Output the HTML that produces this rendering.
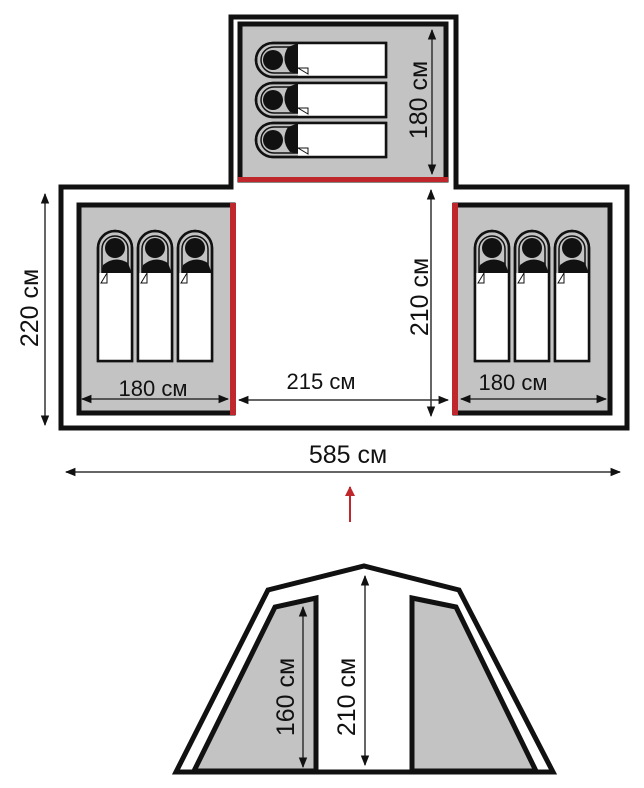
<!DOCTYPE html>
<html><head><meta charset="utf-8"><style>
html,body{margin:0;padding:0;background:#fff;}
svg{display:block;}
text{font-family:"Liberation Sans",sans-serif;font-size:25px;fill:#111;}
</style></head><body>
<svg width="644" height="788" viewBox="0 0 644 788" xmlns="http://www.w3.org/2000/svg">
<defs>
<marker id="a" viewBox="0 0 10 10" refX="9" refY="5" markerWidth="7" markerHeight="7" orient="auto-start-reverse"><path d="M0,1 L10,5 L0,9 z" fill="#111"/></marker>
<marker id="r" viewBox="0 0 10 10" refX="9" refY="5" markerWidth="5" markerHeight="5" orient="auto"><path d="M0,0 L10,5 L0,10 z" fill="#c0272d"/></marker>
<g id="bag">
<path d="M0,130 V17 A17,17 0 0 1 34,17 V130 Z" fill="#c3c3c3" stroke="#111" stroke-width="2.5"/>
<path d="M4,42 V18 A13,13 0 0 1 30,18 V42 Z" fill="#c3c3c3" stroke="#111" stroke-width="1.5"/>
<circle cx="17" cy="17" r="10" fill="#111"/>
<path d="M3,46 L5,34 Q17,24 30,32 L33,40 L33,46 Z" fill="#111"/>
<rect x="1" y="42" width="32" height="87" fill="#fff"/>
<path d="M3,52 L9,42 L9,52 Z" fill="#fff" stroke="#111" stroke-width="1"/>
<path d="M0,130 V17 A17,17 0 0 1 34,17 V130 Z" fill="none" stroke="#111" stroke-width="2.5"/>
</g>
<g id="bagh" transform="">
<use href="#bag" transform="translate(0,34) rotate(-90)"/>
</g>
</defs>
<path d="M231,17 H456 V187 H627 V428 H61 V187 H231 Z" fill="#fff" stroke="#111" stroke-width="5"/>
<rect x="240" y="24" width="206" height="156" fill="#c3c3c3" stroke="#111" stroke-width="5"/>
<rect x="238" y="177" width="210" height="5" fill="#c0272d"/>
<g transform="translate(256,43)"><use href="#bag" transform="translate(0,34) rotate(-90)"/></g>
<g transform="translate(256,83)"><use href="#bag" transform="translate(0,34) rotate(-90)"/></g>
<g transform="translate(256,123)"><use href="#bag" transform="translate(0,34) rotate(-90)"/></g>
<line x1="432" y1="30" x2="432" y2="174" stroke="#333" stroke-width="1.5" marker-start="url(#a)" marker-end="url(#a)"/>
<text transform="translate(427,100) rotate(-90)" text-anchor="middle">180 см</text>
<rect x="79" y="205" width="154" height="208" fill="#c3c3c3" stroke="#111" stroke-width="5"/>
<rect x="230" y="203" width="6" height="212" fill="#c0272d"/>
<use href="#bag" x="98" y="231"/>
<use href="#bag" x="138" y="231"/>
<use href="#bag" x="178" y="231"/>
<line x1="82" y1="399" x2="228" y2="399" stroke="#333" stroke-width="1.5" marker-start="url(#a)" marker-end="url(#a)"/>
<text x="153" y="396" text-anchor="middle" style="font-size:22px">180 см</text>
<rect x="455" y="205" width="155" height="208" fill="#c3c3c3" stroke="#111" stroke-width="5"/>
<rect x="452" y="203" width="6" height="212" fill="#c0272d"/>
<use href="#bag" x="475" y="231"/>
<use href="#bag" x="515" y="231"/>
<use href="#bag" x="555" y="231"/>
<line x1="461" y1="399" x2="606" y2="399" stroke="#333" stroke-width="1.5" marker-start="url(#a)" marker-end="url(#a)"/>
<text x="513" y="390" text-anchor="middle" style="font-size:22px">180 см</text>
<line x1="239" y1="400" x2="448" y2="400" stroke="#333" stroke-width="1.5" marker-start="url(#a)" marker-end="url(#a)"/>
<text x="321" y="389" text-anchor="middle" style="font-size:22px">215 см</text>
<line x1="431" y1="190" x2="431" y2="416" stroke="#333" stroke-width="1.5" marker-start="url(#a)" marker-end="url(#a)"/>
<text transform="translate(428,297) rotate(-90)" text-anchor="middle">210 см</text>
<line x1="45" y1="194" x2="45" y2="425" stroke="#333" stroke-width="1.5" marker-start="url(#a)" marker-end="url(#a)"/>
<text transform="translate(38,308) rotate(-90)" text-anchor="middle">220 см</text>
<line x1="66" y1="472" x2="620" y2="472" stroke="#333" stroke-width="1.5" marker-start="url(#a)" marker-end="url(#a)"/>
<text x="348" y="463" text-anchor="middle">585 см</text>
<line x1="350" y1="522" x2="350" y2="487" stroke="#c0272d" stroke-width="2" marker-end="url(#r)"/>
<path d="M176,772 L268,590 L364,566 L459,590 L553,772 Z" fill="#fff" stroke="#111" stroke-width="5"/>
<path d="M194,771 L275,607 L316,598 L316,771 Z" fill="#c3c3c3" stroke="#111" stroke-width="5"/>
<path d="M412,598 L456,607 L536,771 L412,771 Z" fill="#c3c3c3" stroke="#111" stroke-width="5"/>
<line x1="176" y1="772" x2="553" y2="772" stroke="#111" stroke-width="5"/>
<line x1="303" y1="607" x2="303" y2="767" stroke="#333" stroke-width="1.5" marker-start="url(#a)" marker-end="url(#a)"/>
<text transform="translate(294,697) rotate(-90)" text-anchor="middle">160 см</text>
<line x1="365" y1="576" x2="365" y2="765" stroke="#333" stroke-width="1.5" marker-start="url(#a)" marker-end="url(#a)"/>
<text transform="translate(355,697) rotate(-90)" text-anchor="middle">210 см</text>
</svg>
</body></html>
